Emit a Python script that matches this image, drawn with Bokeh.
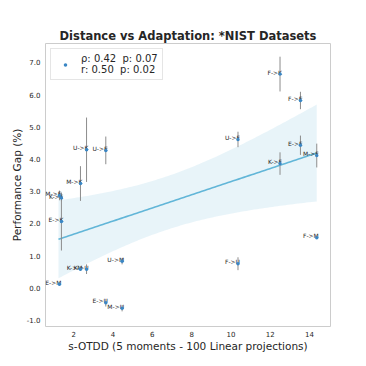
import numpy as np
from bokeh.plotting import figure
from bokeh.models import ColumnDataSource, Range1d, FixedTicker, Legend, LegendItem, CustomJSTickFormatter
from bokeh.embed import file_html
from bokeh.resources import INLINE

# ---- data ----
labels = ["F->K", "F->E", "U->F", "E->F", "M->F", "K->F", "F->M", "F->U",
          "U->K", "U->E", "M->K", "M->E", "K->E", "E->K", "U->M", "K->M",
          "K->U", "E->M", "E->U", "M->U"]
distance = [12.50, 13.54, 10.36, 13.54, 14.37, 12.50, 14.37, 10.36,
            2.65, 3.63, 2.34, 1.27, 1.37, 1.37, 4.46, 2.34,
            2.65, 1.27, 3.63, 4.46]
gap = [6.64, 5.82, 4.61, 4.43, 4.11, 3.86, 1.56, 0.75,
       4.29, 4.27, 3.24, 2.87, 2.79, 2.06, 0.83, 0.58,
       0.58, 0.11, -0.46, -0.63]
gap_err = [0.54, 0.27, 0.24, 0.30, 0.37, 0.35, 0.03, 0.20,
           1.00, 0.43, 0.54, 0.15, 0.10, 0.90, 0.10, 0.05,
           0.15, 0.05, 0.12, 0.10]
legend_text = "\u03c1: 0.42  p: 0.07\nr: 0.50  p: 0.02"
title_text = "Distance vs Adaptation: *NIST Datasets"
x_label = "s-OTDD (5 moments - 100 Linear projections)"
y_label = "Performance Gap (%)"
x_ticks = [2, 4, 6, 8, 10, 12, 14]
y_ticks = [-1, 0, 1, 2, 3, 4, 5, 6, 7]

# ---- regression fit with 95% CI (from the data) ----
x = np.array(distance)
y = np.array(gap)
n = len(x)
slope, intercept = np.polyfit(x, y, 1)
resid = y - (slope * x + intercept)
s = np.sqrt(np.sum(resid ** 2) / (n - 2))
sxx = np.sum((x - x.mean()) ** 2)
t_crit = 1.96
xg = np.linspace(x.min() - 0.05, x.max(), 100)
yg = slope * xg + intercept
half = t_crit * s * np.sqrt(1.0 / n + (xg - x.mean()) ** 2 / sxx)

FONT = "DejaVu Sans"
TXT = "#262626"
PT = "#3a86c4"

p = figure(width=358, height=358, output_backend="svg", toolbar_location=None,
           x_range=Range1d(0.56, 15.07), y_range=Range1d(-1.2, 7.59),
           min_border_left=45, min_border_right=28, min_border_top=43,
           min_border_bottom=32)
p.title.text = title_text
p.title.align = "center"
p.title.text_font = FONT
p.title.text_font_size = "11.5px"
p.title.text_font_style = "bold"
p.title.text_color = TXT
p.title.standoff = 2

p.xgrid.visible = False
p.ygrid.visible = False
p.outline_line_color = "#cccccc"
p.outline_line_width = 1
p.background_fill_color = "white"
p.border_fill_color = "white"

for ax in (p.xaxis[0], p.yaxis[0]):
    ax.axis_line_color = None
    ax.major_tick_line_color = None
    ax.minor_tick_line_color = None
    ax.major_tick_out = 0
    ax.major_tick_in = 0
    ax.minor_tick_out = 0
    ax.minor_tick_in = 0
    ax.major_label_text_font = FONT
    ax.major_label_text_font_size = "7px"
    ax.major_label_text_color = TXT
    ax.axis_label_text_font = FONT
    ax.axis_label_text_font_size = "10.5px"
    ax.axis_label_text_font_style = "normal"
    ax.axis_label_text_color = TXT

p.xaxis.ticker = FixedTicker(ticks=x_ticks)
p.yaxis.ticker = FixedTicker(ticks=y_ticks)
p.yaxis.formatter = CustomJSTickFormatter(code="return tick.toFixed(1);")
p.xaxis.axis_label = x_label
p.yaxis.axis_label = y_label
p.xaxis.major_label_standoff = 4
p.yaxis.major_label_standoff = 5
p.xaxis.axis_label_standoff = 0
p.yaxis.axis_label_standoff = 1

# band + line
p.varea(x=xg, y1=yg - half, y2=yg + half, fill_color="#62b6d8", fill_alpha=0.15)
p.line(xg, yg, line_color="#62b6d8", line_width=1.6)

src = ColumnDataSource(dict(x=distance, y=gap, lab=labels,
                            lo=[g - e for g, e in zip(gap, gap_err)],
                            hi=[g + e for g, e in zip(gap, gap_err)]))
p.segment(x0="x", y0="lo", x1="x", y1="hi", source=src, line_color="#8c8c8c", line_width=1)
p.text(x="x", y="y", text="lab", source=src, text_align="right", text_baseline="middle",
       x_offset=2, y_offset=-2, text_font_size="6px", text_color=TXT,
       text_font={"value": FONT})
pts = p.scatter("x", "y", source=src, size=3.5, fill_color=PT, line_color=None)

legend = Legend(items=[LegendItem(label=legend_text, renderers=[pts])],
                location="top_left")
legend.margin = 5
legend.padding = 4
legend.glyph_width = 20
legend.glyph_height = 9
legend.label_standoff = 6
legend.label_text_font = FONT
legend.label_text_font_size = "10px"
legend.label_text_color = TXT
legend.border_line_color = "#cccccc"
legend.border_line_width = 1
legend.background_fill_alpha = 1.0
p.add_layout(legend)

open("out.html", "w").write(file_html(p, INLINE))
